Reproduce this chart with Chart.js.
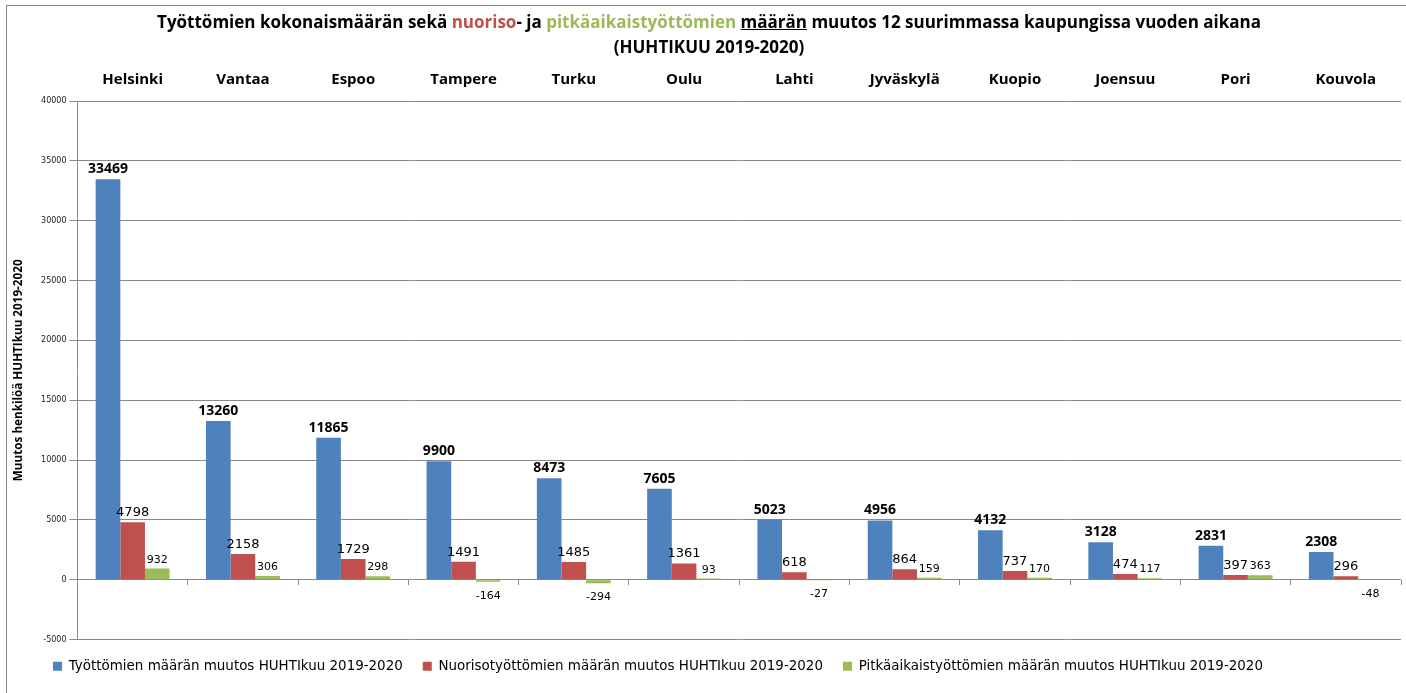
<!DOCTYPE html>
<html>
<head>
<meta charset="utf-8">
<script src="https://cdn.jsdelivr.net/npm/chart.js@4"></script>
<style>
html, body { margin: 0; padding: 0; background: #fff; overflow: hidden; }
#wrap { position: relative; width: 1406px; height: 693px; overflow: hidden; }
#frame { position: absolute; left: 6px; top: 5px; width: 1500px; height: 800px; border: 1px solid #8a8a8a; }
#title { position: absolute; left: 6px; top: 9px; width: 1406px; text-align: center; font-family: 'Open Sans'; font-weight: bold; font-size: 17px; line-height: 25px; color: #000; }
#title .red { color: #c0504d; }
#title .green { color: #9bbb59; }
#chart_canvas { position: absolute; left: 0; top: 0; }
</style>
</head>
<body>
<div id="wrap">
  <div id="frame"></div>
  <canvas id="chart_canvas" width="1406" height="693"></canvas>
  <div id="title">Työttömien kokonaismäärän sekä <span class="red">nuoriso</span>- ja <span class="green">pitkäaikaistyöttömien</span> <u>määrän</u> muutos 12 suurimmassa kaupungissa vuoden aikana<br>(HUHTIKUU 2019-2020)</div>
</div>
<script>
const cities = ["Helsinki", "Vantaa", "Espoo", "Tampere", "Turku", "Oulu", "Lahti", "Jyväskylä", "Kuopio", "Joensuu", "Pori", "Kouvola"];
const totalChange = [33469, 13260, 11865, 9900, 8473, 7605, 5023, 4956, 4132, 3128, 2831, 2308];
const youthChange = [4798, 2158, 1729, 1491, 1485, 1361, 618, 864, 737, 474, 397, 296];
const longTermChange = [932, 306, 298, -164, -294, 93, -27, 159, 170, 117, 363, -48];
const seriesNames = [
    "Työttömien määrän muutos HUHTIkuu 2019-2020",
    "Nuorisotyöttömien määrän muutos HUHTIkuu 2019-2020",
    "Pitkäaikaistyöttömien määrän muutos HUHTIkuu 2019-2020"
];
const yTitle = "Muutos henkilöä HUHTIkuu 2019-2020";

// fonts for the value labels of each series
const labelFonts = [
    "bold 14px 'Open Sans'",
    "13px 'DejaVu Sans'",
    "11px 'DejaVu Sans'"
];

// value labels above bars (below for negative ones)
const valueLabels = {
    id: 'valueLabels',
    afterDatasetsDraw(chart) {
        var ctx = chart.ctx;
        chart.data.datasets.forEach(function(ds, i) {
            var meta = chart.getDatasetMeta(i);
            ctx.save();
            ctx.font = labelFonts[i];
            ctx.fillStyle = '#000';
            ctx.textAlign = 'center';
            ctx.textBaseline = 'alphabetic';
            meta.data.forEach(function(bar, j) {
                var v = ds.data[j];
                if (v >= 0) {
                    ctx.fillText(String(v), bar.x, bar.y - 6);
                } else {
                    ctx.fillText(String(v), bar.x, bar.y + 17);
                }
            });
            ctx.restore();
        });
    }
};

// the legend sits a bit right of the canvas edge in the original
const legendShift = {
    id: 'legendShift',
    afterLayout(chart) {
        chart.legend.left += 25;
        chart.legend.right += 25;
    }
};

var context = document.getElementById("chart_canvas");
var chartData = {
    labels: cities,
    datasets: [
        {
            label: seriesNames[0],
            backgroundColor: "#4f81bd",
            data: totalChange
        },
        {
            label: seriesNames[1],
            backgroundColor: "#c0504d",
            data: youthChange
        },
        {
            label: seriesNames[2],
            backgroundColor: "#9bbb59",
            data: longTermChange
        }
    ]
};

var barChart = new Chart(context, {
    type: 'bar',
    data: chartData,
    plugins: [valueLabels, legendShift],
    options: {
        responsive: false,
        animation: false,
        categoryPercentage: 0.67,
        barPercentage: 1.0,
        layout: { padding: { left: 8, right: 5, top: 67, bottom: 10 } },
        plugins: {
            title: { display: false },
            tooltip: { enabled: false },
            legend: {
                position: 'bottom',
                align: 'start',
                labels: {
                    boxWidth: 9,
                    boxHeight: 9,
                    padding: 20,
                    color: '#000',
                    font: { family: 'DejaVu Sans', size: 13.45 }
                }
            }
        },
        scales: {
            x: {
                position: 'top',
                grid: { display: false },
                border: { display: false },
                ticks: {
                    color: '#000',
                    padding: 4,
                    font: { family: 'Open Sans', weight: 'bold', size: 15 }
                }
            },
            x0: {
                axis: 'x',
                type: 'category',
                position: { y: 0 },
                offset: true,
                grid: { display: true, offset: true, drawOnChartArea: false, drawTicks: true, tickLength: 5, color: '#8a8a8a' },
                border: { display: false },
                ticks: { display: false }
            },
            y: {
                min: -5000,
                max: 40000,
                ticks: {
                    stepSize: 5000,
                    color: '#222',
                    padding: 3,
                    font: { family: 'DejaVu Sans', size: 8 },
                    callback: function(value) { return String(value); }
                },
                grid: { color: '#8a8a8a', tickLength: 8 },
                border: { color: '#8a8a8a' },
                title: {
                    display: true,
                    text: yTitle,
                    color: '#000',
                    padding: { top: 4, bottom: 12 },
                    font: { family: 'Open Sans', weight: 'bold', size: 11.7 }
                }
            }
        }
    }
});
</script>
</body>
</html>
